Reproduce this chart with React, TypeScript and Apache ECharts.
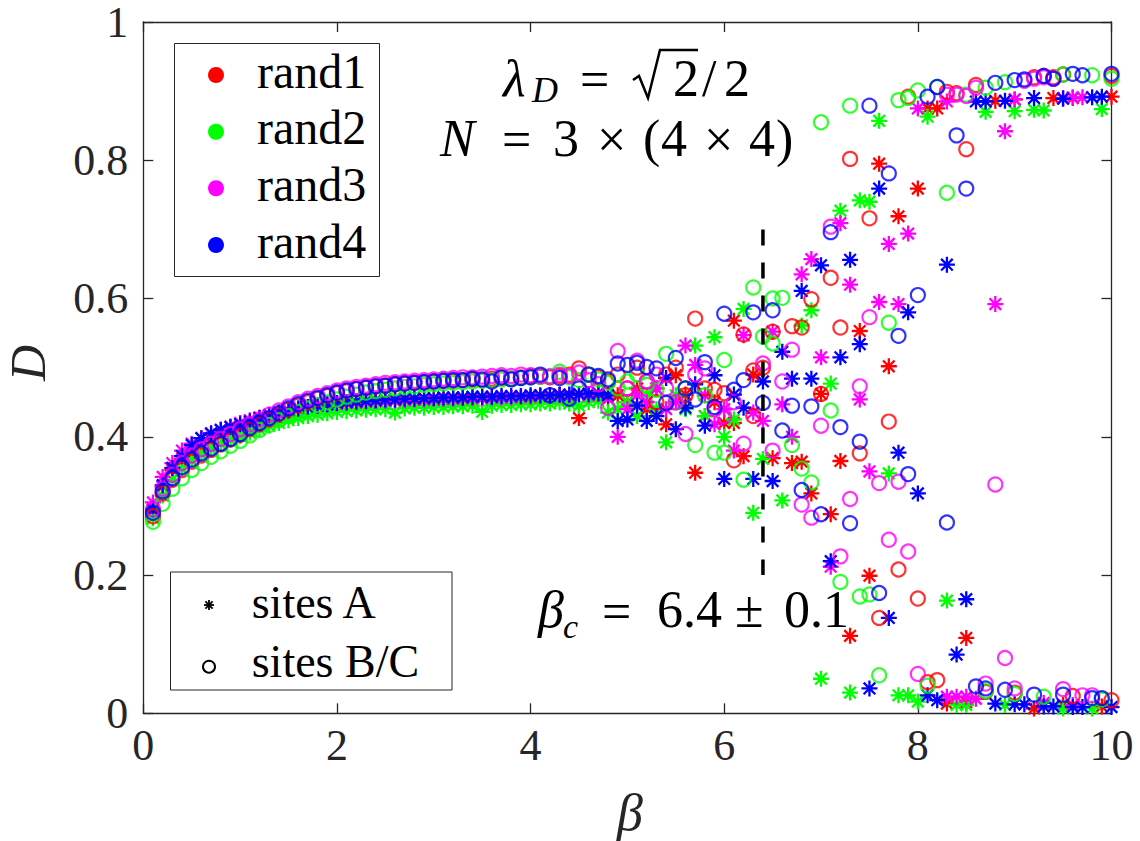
import React, { useEffect, useRef } from "react";
import * as echarts from "echarts";

// ---------------- data ----------------
const BETA_LOW = [0.1,0.2,0.3,0.4,0.5,0.6,0.7,0.8,0.9,1.0,1.1,1.2,1.3,1.4,1.5,1.6,1.7,1.8,1.9,2.0,2.1,2.2,2.3,2.4,2.5,2.6,2.7,2.8,2.9,3.0,3.1,3.2,3.3,3.4,3.5,3.6,3.7,3.8,3.9,4.0,4.1,4.2,4.3,4.4,4.5,4.6,4.7,4.8];

const NAMES = ["rand1", "rand2", "rand3", "rand4"];
const COLORS = ["#FF0000", "#00FF00", "#FF00FF", "#0000FF"];

// sites B/C (circles), low-beta branch
const R1C_LOW = [0.285,0.318,0.338,0.352,0.364,0.373,0.381,0.389,0.396,0.403,0.411,0.418,0.425,0.432,0.439,0.445,0.45,0.455,0.459,0.463,0.466,0.469,0.471,0.473,0.474,0.476,0.477,0.478,0.479,0.48,0.481,0.481,0.482,0.483,0.482,0.484,0.485,0.484,0.486,0.488,0.487,0.486,0.488,0.49,0.499,0.49,0.486,0.48];
const R2C_LOW = [0.277,0.303,0.325,0.34,0.352,0.362,0.371,0.379,0.387,0.394,0.402,0.41,0.417,0.424,0.43,0.436,0.441,0.446,0.45,0.454,0.458,0.461,0.464,0.466,0.468,0.47,0.472,0.473,0.475,0.476,0.477,0.478,0.479,0.48,0.481,0.482,0.483,0.484,0.485,0.486,0.487,0.488,0.494,0.486,0.482,0.49,0.483,0.478];
const R3C_LOW = [0.295,0.325,0.345,0.362,0.373,0.382,0.39,0.397,0.404,0.411,0.418,0.425,0.432,0.438,0.444,0.45,0.455,0.459,0.463,0.467,0.47,0.472,0.474,0.476,0.478,0.479,0.48,0.481,0.482,0.483,0.484,0.485,0.486,0.486,0.487,0.488,0.489,0.488,0.49,0.489,0.488,0.487,0.49,0.488,0.493,0.482,0.476,0.442];
const R4C_LOW = [0.29,0.321,0.34,0.356,0.367,0.376,0.383,0.39,0.397,0.404,0.413,0.42,0.427,0.434,0.441,0.447,0.452,0.456,0.46,0.464,0.467,0.469,0.471,0.473,0.474,0.476,0.477,0.478,0.479,0.48,0.481,0.482,0.482,0.484,0.483,0.48,0.486,0.483,0.485,0.486,0.49,0.46,0.485,0.455,0.47,0.49,0.488,0.483];

// sites A (asterisks), low-beta branch
const R1A_LOW = [0.292,0.328,0.352,0.368,0.379,0.389,0.396,0.402,0.408,0.413,0.418,0.423,0.428,0.432,0.436,0.439,0.442,0.444,0.446,0.447,0.448,0.449,0.45,0.451,0.451,0.452,0.452,0.453,0.453,0.453,0.454,0.454,0.454,0.455,0.455,0.455,0.456,0.456,0.456,0.457,0.458,0.455,0.46,0.456,0.427,0.462,0.46,0.455];
const R2A_LOW = [0.282,0.315,0.338,0.355,0.366,0.375,0.383,0.39,0.396,0.401,0.406,0.411,0.416,0.42,0.424,0.427,0.43,0.432,0.434,0.436,0.437,0.438,0.439,0.44,0.44,0.435,0.441,0.442,0.442,0.443,0.443,0.444,0.444,0.445,0.436,0.445,0.446,0.446,0.447,0.447,0.448,0.448,0.45,0.448,0.445,0.45,0.452,0.435];
const R3A_LOW = [0.305,0.342,0.362,0.38,0.39,0.398,0.404,0.41,0.415,0.42,0.424,0.428,0.432,0.435,0.438,0.441,0.443,0.445,0.447,0.448,0.449,0.45,0.451,0.452,0.452,0.453,0.453,0.454,0.454,0.455,0.455,0.455,0.456,0.456,0.456,0.457,0.457,0.457,0.458,0.458,0.459,0.459,0.46,0.46,0.461,0.46,0.462,0.46];
const R4A_LOW = [0.295,0.33,0.355,0.372,0.388,0.398,0.405,0.41,0.414,0.418,0.422,0.427,0.431,0.435,0.438,0.441,0.443,0.445,0.447,0.449,0.45,0.451,0.452,0.453,0.454,0.454,0.455,0.455,0.456,0.456,0.457,0.457,0.457,0.458,0.458,0.458,0.459,0.459,0.459,0.46,0.46,0.46,0.461,0.461,0.462,0.462,0.463,0.46];

// scattered region (beta, D)
const R1C_SCAT = [[4.9,0.49],[5.0,0.47],[5.1,0.5],[5.2,0.48],[5.3,0.45],[5.4,0.49],[5.5,0.5],[5.6,0.46],[5.7,0.571],[5.8,0.47],[5.9,0.468],[6.0,0.463],[6.1,0.366],[6.2,0.548],[6.3,0.496],[6.3,0.43],[6.4,0.5],[6.5,0.552],[6.7,0.56],[6.8,0.558],[6.9,0.599],[7.0,0.462],[7.1,0.63],[7.2,0.558],[7.3,0.802],[7.4,0.376],[7.5,0.716],[7.6,0.138],[7.7,0.422],[7.8,0.208],[8.0,0.166],[8.5,0.816]];
const R1A_SCAT = [[4.9,0.46],[5.0,0.45],[5.1,0.47],[5.2,0.44],[5.3,0.47],[5.4,0.418],[5.5,0.489],[5.6,0.461],[5.7,0.348],[5.8,0.43],[5.9,0.45],[6.0,0.42],[6.1,0.568],[6.1,0.42],[6.2,0.372],[6.3,0.49],[6.5,0.369],[6.7,0.362],[6.8,0.364],[6.9,0.318],[7.0,0.462],[7.1,0.288],[7.2,0.365],[7.3,0.112],[7.4,0.553],[7.5,0.199],[7.6,0.795],[7.7,0.502],[7.8,0.719],[8.0,0.759],[8.5,0.109]];
const R2C_SCAT = [[4.9,0.47],[5.0,0.48],[5.1,0.49],[5.2,0.475],[5.3,0.468],[5.4,0.52],[5.5,0.45],[5.6,0.47],[5.7,0.388],[5.8,0.46],[5.9,0.377],[6.0,0.511],[6.0,0.377],[6.2,0.338],[6.3,0.616],[6.4,0.545],[6.5,0.6],[6.5,0.535],[6.6,0.601],[6.7,0.388],[6.8,0.354],[6.9,0.334],[7.0,0.855],[7.1,0.438],[7.2,0.19],[7.3,0.879],[7.4,0.169],[7.5,0.172],[7.6,0.055],[7.7,0.565],[8.3,0.753]];
const R2A_SCAT = [[4.9,0.44],[5.0,0.45],[5.1,0.43],[5.2,0.46],[5.3,0.44],[5.4,0.392],[5.5,0.46],[5.6,0.44],[5.7,0.532],[5.8,0.43],[5.9,0.544],[6.0,0.4],[6.1,0.425],[6.2,0.585],[6.3,0.29],[6.4,0.368],[6.6,0.308],[6.8,0.561],[6.9,0.583],[7.0,0.05],[7.1,0.477],[7.2,0.727],[7.3,0.03],[7.4,0.742],[7.5,0.74],[7.6,0.857],[7.7,0.347],[8.3,0.163]];
const R3C_SCAT = [[4.9,0.524],[5.0,0.47],[5.1,0.51],[5.2,0.48],[5.3,0.49],[5.4,0.47],[5.5,0.45],[5.6,0.404],[5.7,0.49],[5.8,0.499],[5.9,0.44],[6.0,0.43],[6.1,0.45],[6.2,0.39],[6.4,0.506],[6.5,0.38],[6.6,0.48],[6.7,0.526],[6.8,0.302],[6.9,0.283],[7.0,0.416],[7.1,0.704],[7.2,0.227],[7.3,0.31],[7.4,0.473],[7.5,0.573],[7.6,0.333],[7.7,0.251],[7.8,0.335],[7.9,0.234],[8.8,0.331],[8.9,0.08]];
const R3A_SCAT = [[4.9,0.4],[5.0,0.44],[5.1,0.46],[5.2,0.45],[5.3,0.47],[5.4,0.44],[5.5,0.45],[5.6,0.532],[5.7,0.504],[5.8,0.46],[5.9,0.418],[6.0,0.44],[6.1,0.38],[6.2,0.547],[6.3,0.435],[6.4,0.423],[6.5,0.552],[6.6,0.447],[6.7,0.4],[6.8,0.635],[6.9,0.657],[7.0,0.515],[7.1,0.212],[7.2,0.709],[7.3,0.62],[7.4,0.454],[7.5,0.35],[7.6,0.595],[7.7,0.679],[7.8,0.592],[7.9,0.694],[8.8,0.592],[8.9,0.842]];
const R4C_SCAT = [[4.9,0.506],[5.0,0.504],[5.1,0.507],[5.2,0.501],[5.3,0.499],[5.4,0.449],[5.5,0.514],[5.6,0.47],[5.7,0.454],[5.8,0.508],[5.9,0.443],[6.0,0.578],[6.1,0.468],[6.2,0.482],[6.3,0.58],[6.4,0.449],[6.5,0.583],[6.6,0.409],[6.7,0.445],[6.8,0.323],[6.9,0.444],[7.0,0.288],[7.1,0.696],[7.2,0.414],[7.3,0.275],[7.4,0.393],[7.5,0.879],[7.6,0.174],[7.7,0.781],[7.8,0.546],[7.9,0.346],[8.0,0.605],[8.3,0.276],[8.4,0.836],[8.5,0.759]];
const R4A_SCAT = [[4.9,0.423],[5.0,0.425],[5.1,0.445],[5.2,0.423],[5.3,0.43],[5.4,0.485],[5.5,0.411],[5.6,0.442],[5.7,0.476],[5.8,0.416],[5.9,0.489],[6.0,0.339],[6.1,0.461],[6.2,0.442],[6.3,0.339],[6.4,0.48],[6.5,0.336],[6.6,0.523],[6.7,0.484],[6.8,0.611],[6.9,0.484],[7.0,0.648],[7.1,0.22],[7.2,0.515],[7.3,0.656],[7.4,0.534],[7.5,0.036],[7.6,0.759],[7.7,0.138],[7.8,0.377],[7.9,0.58],[8.0,0.318],[8.3,0.649],[8.4,0.085],[8.5,0.165]];

// upper branch (beta, D)
const R1C_TOP = [[7.9,0.892],[8.3,0.899],[8.4,0.897],[8.6,0.909],[9.2,0.92],[9.3,0.922],[9.4,0.92],[9.5,0.924],[10.0,0.922]];
const R2C_TOP = [[7.8,0.887],[7.9,0.89],[8.0,0.901],[8.2,0.906],[8.5,0.895],[8.7,0.905],[8.9,0.913],[9.5,0.924],[9.8,0.923],[10.0,0.918]];
const R3C_TOP = [[8.3,0.895],[8.4,0.895],[8.5,0.893],[8.6,0.905],[9.1,0.915],[9.2,0.918],[9.3,0.92],[9.4,0.918]];
const R4C_TOP = [[8.1,0.892],[8.2,0.906],[8.8,0.912],[9.0,0.916],[9.1,0.917],[9.3,0.922],[9.4,0.918],[9.6,0.925],[9.7,0.923],[10.0,0.925]];
const R1A_TOP = [[8.1,0.875],[8.2,0.875],[8.8,0.886],[9.0,0.888],[9.4,0.89],[9.6,0.89],[10.0,0.892]];
const R2A_TOP = [[8.1,0.863],[8.7,0.87],[9.0,0.871],[9.2,0.873],[9.3,0.872],[9.9,0.874]];
const R3A_TOP = [[8.0,0.875],[8.3,0.885],[9.0,0.888],[9.5,0.89],[9.6,0.891],[9.7,0.891]];
const R4A_TOP = [[8.6,0.885],[8.7,0.885],[8.9,0.886],[9.2,0.89],[9.5,0.889],[9.8,0.891],[9.9,0.892]];

// lower branch (beta, D)
const R1C_BOT = [[8.1,0.045],[8.2,0.048],[8.7,0.031],[9.0,0.03],[9.6,0.025],[10.0,0.019]];
const R2C_BOT = [[8.1,0.04],[8.7,0.032],[9.0,0.028],[9.3,0.024],[9.9,0.02]];
const R3C_BOT = [[8.0,0.057],[8.7,0.043],[9.0,0.036],[9.5,0.035],[9.7,0.026],[9.8,0.026]];
const R4C_BOT = [[8.6,0.039],[8.7,0.036],[8.9,0.034],[9.2,0.027],[9.5,0.027],[9.8,0.022],[9.9,0.022]];
const R1A_BOT = [[8.3,0.014],[8.5,0.016],[9.2,0.007],[9.5,0.012],[9.9,0.01]];
const R2A_BOT = [[7.8,0.026],[7.9,0.026],[8.0,0.017],[8.4,0.012],[8.5,0.012],[8.9,0.012],[9.5,0.007],[9.8,0.007]];
const R3A_BOT = [[8.3,0.024],[8.4,0.024],[8.5,0.024],[8.6,0.021],[9.3,0.015],[9.6,0.012]];
const R4A_BOT = [[8.1,0.026],[8.2,0.019],[8.8,0.014],[9.0,0.013],[9.1,0.013],[9.3,0.01],[9.4,0.01],[9.6,0.009],[9.7,0.009],[10.0,0.009]];

const BETA_C = 6.4;
const BETA_C_RANGE = [0.7, 0.2];

// ---------------- helpers ----------------
const SERIF = "Liberation Serif";
const AX = "#262626";

// asterisk marker (MATLAB '*'): + and x overlaid, drawn at true pixel size around (0,0)
echarts.graphic.registerShape(
  "asterisk",
  echarts.graphic.extendPath("M0 -8L0 8M-8 0L8 0M-5.8 -5.8L5.8 5.8M-5.8 5.8L5.8 -5.8", {})
);

function join(low: number[], ...rest: number[][][]) {
  const pts: number[][] = low.map((d, i) => [BETA_LOW[i], d]);
  rest.forEach((r) => r.forEach((p) => pts.push(p)));
  return pts;
}

const DATA_A = [
  join(R1A_LOW, R1A_SCAT, R1A_TOP, R1A_BOT),
  join(R2A_LOW, R2A_SCAT, R2A_TOP, R2A_BOT),
  join(R3A_LOW, R3A_SCAT, R3A_TOP, R3A_BOT),
  join(R4A_LOW, R4A_SCAT, R4A_TOP, R4A_BOT),
];
const DATA_C = [
  join(R1C_LOW, R1C_SCAT, R1C_TOP, R1C_BOT),
  join(R2C_LOW, R2C_SCAT, R2C_TOP, R2C_BOT),
  join(R3C_LOW, R3C_SCAT, R3C_TOP, R3C_BOT),
  join(R4C_LOW, R4C_SCAT, R4C_TOP, R4C_BOT),
];

function txt(text: string, x: number, y: number, size: number, italic = false, extra: any = {}) {
  return {
    type: "text",
    x,
    y,
    z: 100,
    silent: true,
    style: {
      text,
      fontSize: size,
      fontFamily: SERIF,
      fontStyle: italic ? "italic" : "normal",
      fill: "#000",
      align: "left",
      verticalAlign: "middle",
      ...extra,
    },
  };
}

function starSeries(name: string, data: number[][], color: string) {
  return {
    name,
    type: "custom",
    data,
    silent: true,
    clip: false,
    renderItem: (params: any, api: any) => {
      const p = api.coord([api.value(0), api.value(1)]);
      return {
        type: "asterisk",
        x: p[0],
        y: p[1],
        style: { fill: "none", stroke: color, lineWidth: 2.3 },
      };
    },
  };
}

export default function App() {
  const ref = useRef<HTMLDivElement>(null);

  useEffect(() => {
    document.body.style.margin = "0";
    if (!ref.current) return;
    const chart = echarts.init(ref.current, undefined, { renderer: "svg" });

    const series: any[] = [];
    for (let i = 0; i < 4; i++) {
      series.push(starSeries(NAMES[i] + " A", DATA_A[i], COLORS[i]));
      series.push({
        name: NAMES[i] + " B/C",
        type: "scatter",
        data: DATA_C[i],
        symbol: "circle",
        symbolSize: 14,
        clip: false,
        silent: true,
        itemStyle: { color: "rgba(0,0,0,0)", borderColor: COLORS[i], borderWidth: 2.2 },
        emphasis: { disabled: true },
      });
    }
    series.push({
      name: "beta_c",
      type: "line",
      data: [[BETA_C, BETA_C_RANGE[0]], [BETA_C, BETA_C_RANGE[1]]],
      showSymbol: false,
      symbol: "none",
      silent: true,
      z: 5,
      lineStyle: { color: "#000", width: 3.5, type: [16, 17] },
    });

    const axisCommon = {
      type: "value",
      axisLine: { show: true, onZero: false, lineStyle: { color: AX, width: 1.3 } },
      axisTick: { show: true, inside: true, length: 10, lineStyle: { color: AX, width: 1.3 } },
      splitLine: { show: false },
    };
    const labelStyle = { fontSize: 44, fontFamily: SERIF, color: AX };

    const graphic: any[] = [];
    // legend 1
    graphic.push({
      type: "rect", z: 99, silent: true,
      shape: { x: 174.5, y: 43.5, width: 205, height: 233 },
      style: { fill: "#fff", stroke: AX, lineWidth: 1 },
    });
    const legY = [75, 131.7, 188.3, 245];
    for (let i = 0; i < 4; i++) {
      graphic.push({ type: "circle", z: 100, silent: true, shape: { cx: 216, cy: legY[i], r: 8 }, style: { fill: COLORS[i] } });
      graphic.push(txt(NAMES[i], 257, legY[i] - 4, 48));
    }
    // legend 2
    graphic.push({
      type: "rect", z: 99, silent: true,
      shape: { x: 170.5, y: 572, width: 281.5, height: 118 },
      style: { fill: "#fff", stroke: AX, lineWidth: 1 },
    });
    const sx = 209, sy = 605, sr = 5;
    [[0, -sr, 0, sr], [-sr, 0, sr, 0], [-sr * 0.72, -sr * 0.72, sr * 0.72, sr * 0.72], [-sr * 0.72, sr * 0.72, sr * 0.72, -sr * 0.72]].forEach((l) => {
      graphic.push({ type: "line", z: 100, silent: true, shape: { x1: sx + l[0], y1: sy + l[1], x2: sx + l[2], y2: sy + l[3] }, style: { stroke: "#000", lineWidth: 1.8 } });
    });
    graphic.push({ type: "circle", z: 100, silent: true, shape: { cx: 209, cy: 666.7, r: 6 }, style: { fill: "none", stroke: "#000", lineWidth: 2 } });
    graphic.push(txt("sites A", 251.7, 602, 46));
    graphic.push(txt("sites B/C", 251.7, 661, 46));

    // annotation line 1: lambda_D = sqrt(2)/2
    graphic.push(txt("λ", 503, 78, 52, true));
    graphic.push(txt("D", 532, 90, 36, true));
    graphic.push(txt("=", 580, 79, 52));
    graphic.push({
      type: "polyline", z: 100, silent: true,
      shape: { points: [[633, 80], [639, 76], [648, 98], [660, 50], [698, 50]] },
      style: { stroke: "#000", lineWidth: 2.5, fill: "none" },
    });
    graphic.push(txt("2", 673, 78, 52));
    graphic.push(txt("/", 702, 78, 52));
    graphic.push(txt("2", 724, 78, 52));

    // annotation line 2: N = 3 x (4 x 4)
    graphic.push(txt("N", 440, 138, 52, true));
    graphic.push(txt("=", 502, 139, 52));
    graphic.push(txt("3", 553, 138, 52));
    graphic.push(txt("×", 597, 139, 52));
    graphic.push(txt("(", 643, 138, 52));
    graphic.push(txt("4", 661, 138, 52));
    graphic.push(txt("×", 704, 139, 52));
    graphic.push(txt("4", 749, 138, 52));
    graphic.push(txt(")", 776, 138, 52));

    // annotation line 3: beta_c = 6.4 +- 0.1
    graphic.push(txt("β", 538, 609, 52, true));
    graphic.push(txt("c", 563, 626, 34, true));
    graphic.push(txt("=", 602, 611, 52));
    graphic.push(txt("6.4", 657, 609, 52));
    graphic.push(txt("±", 735, 609, 52));
    graphic.push(txt("0.1", 784, 609, 52));

    // axis names
    graphic.push({
      type: "text", z: 100, silent: true, x: 28, y: 363, rotation: Math.PI / 2,
      style: { text: "D", fontSize: 50, fontFamily: SERIF, fontStyle: "italic", fill: AX, align: "center", verticalAlign: "middle" },
    });
    graphic.push({
      type: "text", z: 100, silent: true, x: 630, y: 812,
      style: { text: "β", fontSize: 52, fontFamily: SERIF, fontStyle: "italic", fill: AX, align: "center", verticalAlign: "middle" },
    });

    chart.setOption({
      animation: false,
      backgroundColor: "#fff",
      grid: { left: 143.3, right: 28.5, top: 12.7, bottom: 127.7, containLabel: false },
      xAxis: [
        { ...axisCommon, min: 0, max: 10, interval: 2, position: "bottom", axisLabel: { ...labelStyle, margin: 10 } },
        { ...axisCommon, min: 0, max: 10, interval: 2, position: "top", axisLabel: { show: false } },
      ],
      yAxis: [
        { ...axisCommon, min: 0, max: 1, interval: 0.2, position: "left", axisLabel: { ...labelStyle, margin: 15 } },
        { ...axisCommon, min: 0, max: 1, interval: 0.2, position: "right", axisLabel: { show: false } },
      ],
      series,
      graphic,
    });

    return () => chart.dispose();
  }, []);

  return <div ref={ref} style={{ position: "absolute", left: 0, top: 0, width: 1140, height: 841 }} />;
}
